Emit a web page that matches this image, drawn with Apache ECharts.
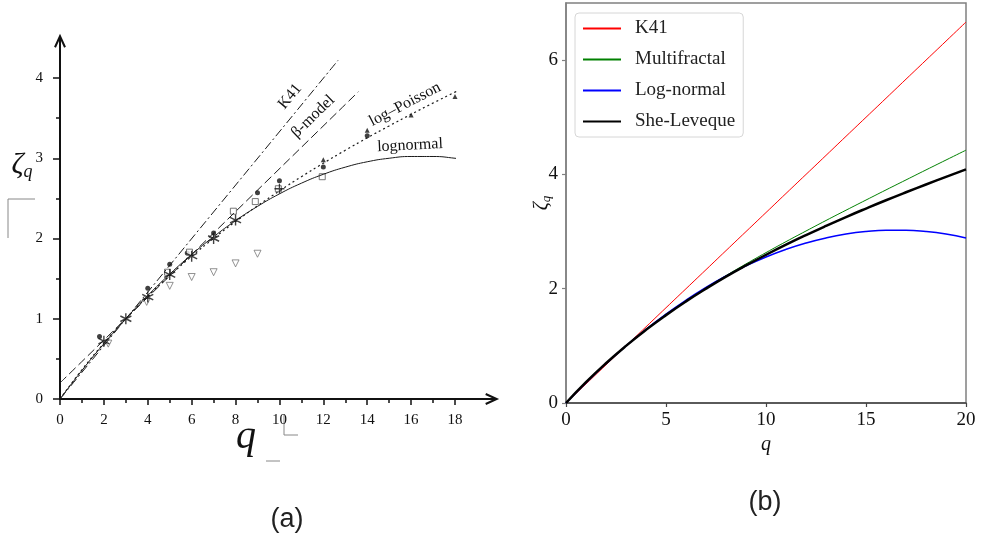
<!DOCTYPE html>
<html>
<head>
<meta charset="utf-8">
<script src="https://cdn.jsdelivr.net/npm/echarts@6/dist/echarts.min.js"></script>
<style>
  html, body { margin: 0; background: #fff; }
  #chart { width: 981px; height: 542px; }
</style>
</head>
<body>
<div id="chart"></div>
<script>
// ---- panel (a): model curves ----
const qA = [0, 1, 2, 3, 4, 5, 6, 7, 8, 9, 10, 11, 12, 13, 14, 15, 16, 17, 18, 18.5];
const logPoissonA = [0, 0.364, 0.696, 1.0, 1.280, 1.538, 1.778, 2.001, 2.211, 2.407, 2.593, 2.770, 2.938, 3.099, 3.254, 3.403, 3.548, 3.688, 3.824, 3.89];
const lognormalA = [0, 0.356, 0.689, 1.0, 1.289, 1.556, 1.8, 2.022, 2.222, 2.4, 2.556, 2.689, 2.8, 2.889, 2.956, 3.0, 3.022, 3.022, 3.0, 2.98];
const k41A = [[0, 0], [12.67, 4.22]];
const betaModelA = [[0, 0.2], [13.6, 3.83]];

// ---- panel (a): measured points ----
const dots = [[1.8, 0.78], [4, 1.38], [5, 1.68], [5.8, 1.82], [7, 2.07], [9, 2.57], [10, 2.72], [12, 2.89], [14, 3.28]];
const smallTriangles = [[12, 2.98], [14, 3.35], [16, 3.54], [18, 3.77]];
const squares = [[4.9, 1.58], [5.9, 1.83], [7.9, 2.34], [8.9, 2.46], [9.95, 2.62], [11.95, 2.77]];
const downTriangles = [[2.2, 0.69], [3.95, 1.21], [5, 1.41], [6, 1.52], [7, 1.58], [8, 1.69], [9, 1.81]];
const stars = [[2, 0.72], [3, 1.0], [4, 1.27], [5, 1.55], [6, 1.78], [7, 2.0], [8, 2.23]];
const pluses = [[10, 2.62]];

// ---- panel (b) ----
const qB = [0, 1, 2, 3, 4, 5, 6, 7, 8, 9, 10, 11, 12, 13, 14, 15, 16, 17, 18, 19, 20];
const k41B = [0, 0.333, 0.667, 1, 1.333, 1.667, 2, 2.333, 2.667, 3, 3.333, 3.667, 4, 4.333, 4.667, 5, 5.333, 5.667, 6, 6.333, 6.667];
const multifractal = [0, 0.361, 0.694, 1.0, 1.282, 1.543, 1.786, 2.014, 2.229, 2.434, 2.632, 2.824, 3.010, 3.194, 3.374, 3.552, 3.729, 3.904, 4.079, 4.252, 4.425];
const lognormalB = [0, 0.356, 0.689, 1.0, 1.289, 1.556, 1.8, 2.022, 2.222, 2.4, 2.556, 2.689, 2.8, 2.889, 2.956, 3.0, 3.022, 3.022, 3.0, 2.956, 2.889];
const sheLeveque = [0, 0.364, 0.696, 1.0, 1.280, 1.538, 1.778, 2.001, 2.211, 2.407, 2.593, 2.770, 2.938, 3.099, 3.254, 3.403, 3.548, 3.688, 3.824, 3.958, 4.088];

const serif = 'Liberation Serif';
const pair = (xs, ys) => xs.map((x, i) => [x, ys[i]]);

const chart = echarts.init(document.getElementById('chart'));

const lineA = (name, data, type, width) => ({
  name: name, type: 'line', xAxisIndex: 0, yAxisIndex: 0,
  data: data, symbol: 'none', smooth: true, clip: false, silent: true,
  lineStyle: { color: '#1a1a1a', width: width || 1, type: type }
});
const scatterA = (name, data, symbol, size, style, rotate) => ({
  name: name, type: 'scatter', xAxisIndex: 0, yAxisIndex: 0,
  data: data, symbol: symbol, symbolSize: size, symbolRotate: rotate || 0,
  clip: false, silent: true, itemStyle: style
});
const lineB = (name, ys, color, width) => ({
  name: name, type: 'line', xAxisIndex: 1, yAxisIndex: 1,
  data: pair(qB, ys), symbol: 'none', smooth: true, silent: true,
  lineStyle: { color: color, width: width }, itemStyle: { color: color }
});

chart.setOption({
  animation: false,
  grid: [
    { left: 60, top: 78, right: 526, bottom: 143, outerBoundsMode: 'none' },
    { left: 566, top: 3, right: 15, bottom: 139, show: true, borderColor: '#808080', borderWidth: 1.5, outerBoundsMode: 'none' }
  ],
  xAxis: [
    {
      gridIndex: 0, type: 'value', min: 0, max: 18, interval: 2,
      axisLine: { lineStyle: { color: '#111', width: 2 } },
      axisTick: { length: 6, lineStyle: { color: '#111', width: 1.5 } },
      minorTick: { show: true, splitNumber: 2, length: 4, lineStyle: { color: '#111', width: 1.5 } },
      splitLine: { show: false },
      axisLabel: { fontFamily: serif, fontSize: 15, color: '#111', margin: 14 }
    },
    {
      gridIndex: 1, type: 'value', min: 0, max: 20, interval: 5,
      name: 'q', nameLocation: 'middle', nameGap: 28,
      nameTextStyle: { fontFamily: serif, fontStyle: 'italic', fontSize: 20, color: '#111' },
      axisLine: { lineStyle: { color: '#444', width: 1.5 } },
      axisTick: { length: 4, lineStyle: { color: '#444', width: 1.2 } },
      splitLine: { show: false },
      axisLabel: { fontFamily: serif, fontSize: 19, color: '#111', margin: 8 }
    }
  ],
  yAxis: [
    {
      gridIndex: 0, type: 'value', min: 0, max: 4, interval: 1,
      axisLine: { lineStyle: { color: '#111', width: 2 } },
      axisTick: { length: 7, lineStyle: { color: '#111', width: 1.5 } },
      minorTick: { show: true, splitNumber: 2, length: 4, lineStyle: { color: '#111', width: 1.5 } },
      splitLine: { show: false },
      axisLabel: { fontFamily: serif, fontSize: 15, color: '#111', margin: 17 }
    },
    {
      gridIndex: 1, type: 'value', min: 0, max: 7, interval: 2,
      name: '{z|ζ}{s|q}', nameLocation: 'middle', nameRotate: 90, nameGap: 13, nameMoveOverlap: false,
      nameTextStyle: {
        rich: {
          z: { fontFamily: serif, fontStyle: 'italic', fontSize: 20, color: '#111' },
          s: { fontFamily: serif, fontStyle: 'italic', fontSize: 13, color: '#111', padding: [9, 0, 0, 0] }
        }
      },
      axisLine: { lineStyle: { color: '#808080', width: 1.5 } },
      axisTick: { length: 4, lineStyle: { color: '#808080', width: 1.2 } },
      splitLine: { show: false },
      axisLabel: { fontFamily: serif, fontSize: 19, color: '#111', margin: 8, showMaxLabel: false }
    }
  ],
  legend: {
    data: ['K41', 'Multifractal', 'Log-normal', 'She-Leveque'],
    orient: 'vertical', left: 575, top: 13,
    padding: [6, 8, 6, 7],
    itemWidth: 38, itemHeight: 14, itemGap: 12,
    itemStyle: { opacity: 0 },
    borderColor: '#d6d6d6', borderWidth: 1, borderRadius: 4, backgroundColor: '#fff',
    textStyle: { fontFamily: serif, fontSize: 19, color: '#222', padding: [0, 0, 0, 9] }
  },
  series: [
    lineA('K41 (a)', k41A, [9, 3, 2, 3], 1),
    lineA('beta (a)', betaModelA, [9, 4], 1),
    lineA('log-Poisson (a)', pair(qA, logPoissonA), [2, 3], 1.2),
    lineA('lognormal (a)', pair(qA, lognormalA), 'solid', 1),
    scatterA('dots', dots, 'circle', 5, { color: '#111' }),
    scatterA('small triangles', smallTriangles, 'triangle', 5, { color: '#111' }),
    scatterA('squares', squares, 'rect', 6, { color: '#fff', borderColor: '#555', borderWidth: 1 }),
    scatterA('down triangles', downTriangles, 'triangle', 7, { color: '#fff', borderColor: '#777', borderWidth: 1 }, 180),
    scatterA('stars', stars, 'path://M5,0L5,10M0.7,2.5L9.3,7.5M0.7,7.5L9.3,2.5', 11, { color: 'none', borderColor: '#111', borderWidth: 1.4 }),
    scatterA('pluses', pluses, 'path://M5,0L5,10M0,5L10,5', 10, { color: 'none', borderColor: '#111', borderWidth: 1.3 }),
    lineB('K41', k41B, '#ff0000', 1),
    lineB('Multifractal', multifractal, '#008000', 1),
    lineB('Log-normal', lognormalB, '#0000ff', 1.5),
    lineB('She-Leveque', sheLeveque, '#000000', 2.5)
  ]
});

// axis arrows, curve labels and figure captions, placed from panel (a) axis values
const toA = (v) => chart.convertToPixel({ xAxisIndex: 0, yAxisIndex: 0 }, v);
const o = toA([0, 0]), xEnd = toA([18, 0]), xTip = toA([19.9, 0]), yEnd = toA([0, 4]), yTip = toA([0, 4.52]);
const curveLabels = [
  { text: 'K41', at: [10.48, 3.77], rot: 0.88 },
  { text: 'β-model', at: [11.53, 3.52], rot: 0.77 },
  { text: 'log–Poisson', at: [15.72, 3.67], rot: 0.48 },
  { text: 'lognormal', at: [15.95, 3.16], rot: 0.05 }
];
const stroke = { stroke: '#111', lineWidth: 2, fill: 'none' };
const thin = { stroke: '#888', lineWidth: 1, fill: 'none' };

chart.setOption({
  graphic: [
    { type: 'line', shape: { x1: xEnd[0], y1: xEnd[1], x2: xTip[0], y2: xTip[1] }, style: stroke },
    { type: 'polyline', shape: { points: [[xTip[0] - 11, xTip[1] - 5], [xTip[0], xTip[1]], [xTip[0] - 11, xTip[1] + 5]] }, style: stroke },
    { type: 'line', shape: { x1: yEnd[0], y1: yEnd[1], x2: yTip[0], y2: yTip[1] }, style: stroke },
    { type: 'polyline', shape: { points: [[yTip[0] - 5, yTip[1] + 11], [yTip[0], yTip[1]], [yTip[0] + 5, yTip[1] + 11]] }, style: stroke },
    ...curveLabels.map(l => {
      const p = toA(l.at);
      return {
        type: 'text', x: p[0], y: p[1], rotation: l.rot,
        style: { text: l.text, fontFamily: serif, fontSize: 16, fill: '#111', align: 'center', verticalAlign: 'middle' }
      };
    }),
    {
      type: 'text', x: o[0] - 38, y: o[1] - 234,
      style: {
        text: '{z|ζ}{s|q}', align: 'center', verticalAlign: 'middle',
        rich: {
          z: { fontFamily: serif, fontStyle: 'italic', fontSize: 30, fill: '#111' },
          s: { fontFamily: serif, fontStyle: 'italic', fontSize: 18, fill: '#111', padding: [14, 0, 0, 0] }
        }
      }
    },
    {
      type: 'text', x: o[0] + 186, y: o[1] + 38,
      style: { text: 'q', fontFamily: serif, fontStyle: 'italic', fontSize: 40, fill: '#111', align: 'center', verticalAlign: 'middle' }
    },
    { type: 'polyline', shape: { points: [[o[0] - 52, o[1] - 161], [o[0] - 52, o[1] - 200], [o[0] - 25, o[1] - 200]] }, style: thin },
    { type: 'polyline', shape: { points: [[o[0] + 224, o[1] + 15], [o[0] + 224, o[1] + 36], [o[0] + 238, o[1] + 36]] }, style: thin },
    { type: 'line', shape: { x1: o[0] + 206, y1: o[1] + 62, x2: o[0] + 220, y2: o[1] + 62 }, style: thin },
    {
      type: 'text', x: 287, y: 520,
      style: { text: '(a)', fontFamily: 'Liberation Sans', fontSize: 27, fill: '#222', align: 'center', verticalAlign: 'middle' }
    },
    {
      type: 'text', x: 765, y: 503,
      style: { text: '(b)', fontFamily: 'Liberation Sans', fontSize: 27, fill: '#222', align: 'center', verticalAlign: 'middle' }
    }
  ]
});
</script>
</body>
</html>
